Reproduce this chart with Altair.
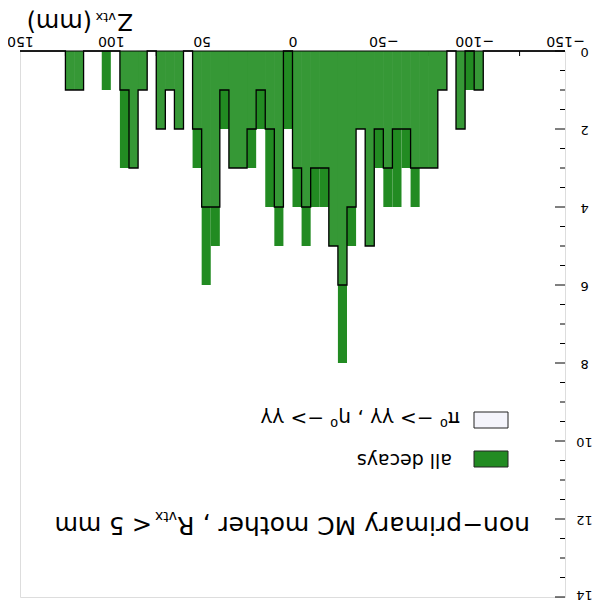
import altair as alt
import pandas as pd

# ---------------- data ----------------
bin_lo = [-105, -100, -95, -90, -85, -80, -75, -70, -65, -60, -55, -50, -45, -40,
          -35, -30, -25, -20, -15, -10, -5, 0, 5, 10, 15, 20, 25, 30, 35, 40, 45,
          50, 55, 60, 65, 70, 75, 80, 85, 90, 95, 100, 105, 110, 115, 120]
all_decays = [1, 1, 2, 0, 1, 3, 3, 4, 3, 4, 4, 3, 5, 2,
              5, 8, 5, 4, 4, 5, 4, 2, 5, 4, 2, 3, 3, 3, 2, 5, 6,
              3, 0, 2, 1, 2, 0, 1, 3, 3, 0, 1, 0, 0, 1, 1]
pi0_eta = [1, 0, 2, 0, 1, 3, 3, 3, 2, 2, 3, 2, 5, 2,
           4, 6, 5, 3, 3, 4, 3, 0, 4, 2, 1, 2, 3, 3, 1, 4, 4,
           2, 0, 2, 1, 2, 0, 1, 3, 1, 0, 0, 0, 0, 1, 1]
bin_w = 5
x_labels = [-150, -100, -50, 0, 50, 100, 150]
x_ticks_minor = [-125, -75, -25, 25, 75, 125]
y_ticks_major = [0, 2, 4, 6, 8, 10, 12, 14]
y_ticks_minor = [0.5, 1, 1.5, 2.5, 3, 3.5, 4.5, 5, 5.5, 6.5, 7, 7.5, 8.5, 9, 9.5,
                 10.5, 11, 11.5, 12.5, 13, 13.5]

FONT = "DejaVu Sans"
GREEN = "#228b22"
HATCH = "#369836"
W, H = 545, 546          # plot area
OX, OY = 20, 51          # page position of plot origin

df = pd.DataFrame({"lo": bin_lo, "all": all_decays, "pi0": pi0_eta})
df["hi"] = df["lo"] + bin_w

step = pd.DataFrame({"edge": [-150] + bin_lo + [125, 150],
                     "pi0": [0] + pi0_eta + [0, 0]})

xs = alt.Scale(domain=[-150, 150], reverse=True, nice=False)
ys = alt.Scale(domain=[0, 14], reverse=True, nice=False, zero=False)

x_axis = alt.Axis(orient="top", values=x_labels, labelAngle=180, labelAlign="center",
                  labelBaseline="top", labelPadding=4, labelFlush=False, labelOverlap=False,
                  ticks=False, tickSize=0, domain=False, grid=False, title=None,
                  labelFont=FONT, labelFontSize=14, labelColor="black")
y_axis = alt.Axis(orient="right", values=y_ticks_major, labelAngle=180, labelAlign="center",
                  labelBaseline="middle", labelPadding=19, labelFlush=False, labelOverlap=False,
                  labelOffset={"condition": {"test": "datum.value == 14", "value": -3}, "value": 0},
                  ticks=False, tickSize=0, domain=False, grid=False, title=None,
                  labelFont=FONT, labelFontSize=13, labelColor="black")

# ticks (drawn inward, under the bars)
xt_minor = alt.Chart(pd.DataFrame({"v": x_ticks_minor})).mark_rule(color="black", strokeWidth=1).encode(
    x=alt.X("v:Q", scale=xs, axis=x_axis), y=alt.value(0), y2=alt.value(5))
yt_major = alt.Chart(pd.DataFrame({"v": y_ticks_major})).mark_rule(color="black", strokeWidth=1).encode(
    y=alt.Y("v:Q", scale=ys, axis=y_axis), x=alt.value(W - 10), x2=alt.value(W))
yt_minor = alt.Chart(pd.DataFrame({"v": y_ticks_minor})).mark_rule(color="black", strokeWidth=1).encode(
    y=alt.Y("v:Q", scale=ys), x=alt.value(W - 5), x2=alt.value(W))

bars_all = alt.Chart(df).mark_rect(color=GREEN).encode(
    x=alt.X("lo:Q", scale=xs), x2="hi:Q",
    y=alt.Y("all:Q", scale=ys), y2=alt.value(0))
bars_pi0 = alt.Chart(df).mark_rect(color=HATCH).encode(
    x=alt.X("lo:Q", scale=xs), x2="hi:Q",
    y=alt.Y("pi0:Q", scale=ys), y2=alt.value(0))
outline = alt.Chart(step).mark_line(color="black", strokeWidth=1.3, interpolate="step-after").encode(
    x=alt.X("edge:Q", scale=xs), y=alt.Y("pi0:Q", scale=ys),
    order=alt.Order("edge:Q", sort="ascending"))
top_frame = alt.Chart(pd.DataFrame({"v": [0]})).mark_rule(color="black", strokeWidth=1).encode(
    y=alt.Y("v:Q", scale=ys), x=alt.value(0), x2=alt.value(W))


def label(txt, px, py, size, align="left"):
    return alt.Chart(alt.Data(values=[{"a": 1}])).mark_text(
        text=txt, angle=180, align=align, baseline="alphabetic", font=FONT,
        fontSize=size, color="black").encode(x=alt.value(px - OX), y=alt.value(py - OY))


def swatch(x1, x2, y1, y2, fill):
    return alt.Chart(alt.Data(values=[{"a": 1}])).mark_rect(
        fill=fill, stroke="#222", strokeWidth=1).encode(
        x=alt.value(x1 - OX), x2=alt.value(x2 - OX), y=alt.value(y1 - OY), y2=alt.value(y2 - OY))


texts = [
    # axis title  Z_vtx (mm)
    label("Z", 133, 14, 23),
    label("vtx", 116, 13, 13),
    label("(mm)", 92, 14, 24),
    # legend
    swatch(474, 508, 412, 428, "#f4f4fb"),
    swatch(474, 508, 451, 467, GREEN),
    label("π⁰ −> γγ , η⁰ −> γγ", 460, 412, 20),
    label("all decays", 452, 454, 19),
    # title
    label("non−primary MC mother , R", 530, 517, 25),
    label("vtx", 177, 512, 14),
    label("< 5 mm", 152, 517, 24),
]

chart = alt.layer(xt_minor, yt_major, yt_minor, bars_all, bars_pi0, outline, top_frame,
                  *texts).properties(
    width=W, height=H,
    autosize=alt.AutoSizeParams(type="none"),
    padding={"left": 12, "top": 43, "right": 28, "bottom": 5},
).configure_view(stroke="black", strokeWidth=1).configure(background="white")

chart.save("out.html", embed_options={"renderer": "svg", "actions": False})
